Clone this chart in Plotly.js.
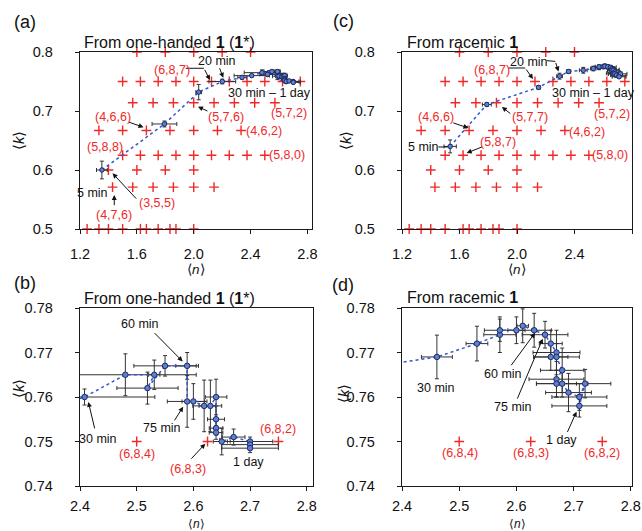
<!DOCTYPE html>
<html><head><meta charset="utf-8">
<script src="https://cdn.plot.ly/plotly-3.0.1.min.js"></script>
<style>html,body{margin:0;padding:0;background:#fff}#chart{width:642px;height:531px}</style>
</head><body><div id="chart"></div>
<script>
// Theoretical (a,b,c) structures: red crosses
const crossN = [1.6,1.8,2.0,2.2,2.4,
  1.5,1.625,1.75,1.875,2.0,2.125,2.25,2.375,2.5,2.625,2.75,
  1.571,1.714,1.857,2.0,2.143,2.286,2.429,2.571,
  1.333,1.5,1.667,1.833,2.0,2.167,2.333,
  1.5,1.625,1.75,1.875,2.0,2.125,2.25,2.375,2.5,
  1.4,1.6,1.8,2.0,
  1.429,1.571,1.714,1.857,2.0,2.143,
  1.25,1.333,1.4,1.5,1.625,1.667,1.75,1.833,1.875,2.0];
const crossK = [0.8,0.8,0.8,0.8,0.8,
  0.75,0.75,0.75,0.75,0.75,0.75,0.75,0.75,0.75,0.75,0.75,
  0.714,0.714,0.714,0.714,0.714,0.714,0.714,0.714,
  0.667,0.667,0.667,0.667,0.667,0.667,0.667,
  0.625,0.625,0.625,0.625,0.625,0.625,0.625,0.625,0.625,
  0.6,0.6,0.6,0.6,
  0.571,0.571,0.571,0.571,0.571,0.571,
  0.5,0.5,0.5,0.5,0.5,0.5,0.5,0.5,0.5,0.5];

// From one-handed 1 (1*): <n>, <k> and their errors
const ohN  = [1.354,1.794,2.035,2.201,2.340,2.408,2.480,2.531,2.519,2.550,2.589,2.589,2.600,2.619,2.630,2.640,2.640,2.640,2.640,2.650,2.671,2.700,2.700,2.700];
const ohK  = [0.600,0.678,0.732,0.750,0.757,0.760,0.765,0.765,0.762,0.767,0.767,0.759,0.759,0.758,0.758,0.760,0.755,0.753,0.752,0.750,0.751,0.750,0.7493,0.7485];
const ohEN = [0.038,0.087,0.020,0.094,0.030,0.124,0.125,0.010,0.054,0.055,0.020,0.035,0.020,0.020,0.020,0.019,0.015,0.012,0.012,0.015,0.020,0.040,0.050,0.050];
const ohEK = [0.015,0.005,0.013,0.004,0.003,0.0018,0.0047,0.0033,0.0036,0.0023,0.003,0.0058,0.004,0.0058,0.0058,0.004,0.003,0.0015,0.0015,0.003,0.0018,0.001,0.001,0.001];

// From racemic 1
const racN  = [1.535,1.790,2.150,2.296,2.359,2.461,2.531,2.571,2.571,2.600,2.611,2.631,2.650,2.660,2.670,2.660,2.670,2.680,2.670,2.670,2.680,2.691,2.710,2.720,2.710];
const racK  = [0.640,0.711,0.740,0.759,0.767,0.769,0.772,0.774,0.775,0.775,0.776,0.775,0.774,0.772,0.770,0.769,0.769,0.766,0.764,0.763,0.763,0.761,0.760,0.763,0.758];
const racEN = [0.043,0.031,0.010,0.020,0.015,0.027,0.019,0.028,0.027,0.015,0.010,0.030,0.040,0.020,0.041,0.030,0.040,0.038,0.048,0.035,0.045,0.040,0.048,0.045,0.048];
const racEK = [0.011,0.003,0.003,0.005,0.003,0.0049,0.0039,0.004,0.0025,0.003,0.0038,0.0038,0.003,0.003,0.005,0.003,0.003,0.005,0.004,0.003,0.003,0.0043,0.003,0.0032,0.0025];

const W = 642, H = 531;
const FONT = 'Liberation Sans, Arial, Helvetica, sans-serif';
const RED = 'rgb(240,40,40)', INK = '#111';

function crossTrace(xa, ya, clip){
  return {x: crossN, y: crossK, xaxis: xa, yaxis: ya, type: 'scatter', mode: 'markers',
    cliponaxis: clip, hoverinfo: 'skip',
    marker: {symbol: 'cross-thin', size: 7, color: RED, line: {color: RED, width: 1.4}}};
}
function dataTrace(xs, ys, exs, eys, xa, ya, msize){
  return {x: xs, y: ys, xaxis: xa, yaxis: ya, type: 'scatter', mode: 'lines+markers',
    line: {color: '#3457cc', width: 1.5, dash: 'dot'},
    marker: {symbol: 'circle', size: msize, color: '#5f7fcf', line: {color: '#1c2a66', width: 1}},
    error_x: {type: 'data', array: exs, visible: true, color: '#333', thickness: 1, width: 2},
    error_y: {type: 'data', array: eys, visible: true, color: '#333', thickness: 1, width: 2}};
}

const traces = [
  crossTrace('x', 'y', false), dataTrace(ohN, ohK, ohEN, ohEK, 'x', 'y', 4.5),
  crossTrace('x2', 'y2', false), dataTrace(racN, racK, racEN, racEK, 'x2', 'y2', 4.5),
  crossTrace('x3', 'y3', true), dataTrace(ohN, ohK, ohEN, ohEK, 'x3', 'y3', 5.5),
  crossTrace('x4', 'y4', true), dataTrace(racN, racK, racEN, racEK, 'x4', 'y4', 5.5)
];

function ax(domainPx, range, dtick, fmt, anchor, standoff){
  return {domain: domainPx, range: range, dtick: dtick, tick0: range[0], tickformat: fmt,
    anchor: anchor, showline: true, mirror: true, linecolor: '#1a1a1a', linewidth: 1.3,
    ticks: 'outside', ticklen: 4, tickcolor: '#1a1a1a', tickwidth: 1, showgrid: false, zeroline: false,
    tickfont: {family: FONT, size: 14.5, color: INK}, ticklabelstandoff: standoff, fixedrange: true};
}
const dxL = [80/W, 312/W], dxR = [402/W, 632/W], dxL2 = [80/W, 313/W];
const dyT = [1-229/H, 1-52/H], dyB = [1-486/H, 1-308/H];

const layout = {
  width: W, height: H, margin: {l: 0, r: 0, t: 0, b: 0}, showlegend: false,
  paper_bgcolor: '#fff', plot_bgcolor: '#fff', font: {family: FONT, color: INK},
  xaxis:  ax(dxL, [1.2, 2.832], 0.4, '.1f', 'y', 7),
  yaxis:  ax(dyT, [0.5, 0.8], 0.1, '.1f', 'x', 19),
  xaxis2: ax(dxR, [1.2, 2.8], 0.4, '.1f', 'y2', 7),
  yaxis2: ax(dyT, [0.5, 0.8], 0.1, '.1f', 'x2', 19),
  xaxis3: ax(dxL2, [2.4, 2.811], 0.1, '.1f', 'y3', 2),
  yaxis3: ax(dyB, [0.74, 0.78], 0.01, '.2f', 'x3', 19),
  xaxis4: ax(dxR, [2.4, 2.802], 0.1, '.1f', 'y4', 2),
  yaxis4: ax(dyB, [0.74, 0.78], 0.01, '.2f', 'x4', 19),
  annotations: [], shapes: []
};

const A = layout.annotations, S = layout.shapes;
function pap(text, x, y, size, extra){
  A.push(Object.assign({text: text, xref: 'paper', yref: 'paper', x: x/W, y: 1-y/H,
    xanchor: 'center', yanchor: 'middle',
    showarrow: false, font: {family: FONT, size: size, color: INK}}, extra || {}));
}
// panel letters and titles
pap('(a)', 25, 22, 18); pap('(c)', 343, 21, 18); pap('(b)', 25, 283, 18); pap('(d)', 343, 285, 18);
pap('From one-handed <b>1</b> (<b>1</b>*)', 82, 42, 16, {xanchor: 'left'});
pap('From racemic <b>1</b>', 405, 42, 16, {xanchor: 'left'});
pap('From one-handed <b>1</b> (<b>1</b>*)', 82, 298, 16, {xanchor: 'left'});
pap('From racemic <b>1</b>', 405, 297, 16, {xanchor: 'left'});
// axis titles
pap('⟨<i>n</i>⟩', 196, 269, 13.5); pap('⟨<i>n</i>⟩', 517, 269, 13.5);
pap('⟨<i>n</i>⟩', 196, 524, 12); pap('⟨<i>n</i>⟩', 517, 524, 12);
pap('⟨<i>k</i>⟩', 18, 140, 15, {textangle: -90}); pap('⟨<i>k</i>⟩', 345, 140, 15, {textangle: -90});
pap('⟨<i>k</i>⟩', 18, 388, 15, {textangle: -90}); pap('⟨<i>k</i>⟩', 343, 393, 15, {textangle: -90});

function lab(xa, ya, list){
  list.forEach(function(t){
    A.push({text: t[0], x: t[1], y: t[2], xref: xa, yref: ya, showarrow: false,
      xanchor: 'center', yanchor: 'middle',
      font: {family: FONT, size: 12.5, color: t[3] === 'r' ? RED : INK}});
  });
}
function arr(xa, ya, list){
  list.forEach(function(a){
    A.push({text: '', x: a[0], y: a[1], ax: a[2], ay: a[3], xref: xa, yref: ya, axref: xa, ayref: ya,
      showarrow: true, arrowhead: 2, arrowsize: 1, arrowwidth: 1, arrowcolor: INK});
  });
}
function seg(xa, ya, list){
  list.forEach(function(s){
    S.push({type: 'line', xref: xa, yref: ya, x0: s[0], y0: s[1], x1: s[2], y1: s[3],
      line: {color: INK, width: 1}});
  });
}

// panel (a)
lab('x', 'y', [['(6,8,7)',1.85,0.7695,'r'],['20 min',2.161,0.7847,'k'],['30 min – 1 day',2.535,0.731,'k'],
  ['(5,7,6)',2.225,0.6893,'r'],['(5,7,2)',2.669,0.696,'r'],['(4,6,6)',1.429,0.690,'r'],['(4,6,2)',2.493,0.6667,'r'],
  ['(5,8,8)',1.375,0.6385,'r'],['(5,8,0)',2.657,0.6254,'r'],['5 min',1.289,0.5605,'k'],['(3,5,5)',1.740,0.5436,'r'],
  ['(4,7,6)',1.441,0.5237,'r']]);
arr('x', 'y', [[2.114,0.7525,2.072,0.7724],[2.208,0.7564,2.178,0.775],[2.030,0.7073,2.107,0.6988],
  [1.647,0.6724,1.535,0.6819],[1.429,0.5944,1.605,0.549],[1.441,0.5576,1.441,0.5378]]);
seg('x', 'y', [[1.944,0.7724,2.072,0.7724]]);

// panel (c)
lab('x2', 'y2', [['(6,8,7)',1.825,0.770,'r'],['20 min',2.080,0.7824,'k'],['30 min – 1 day',2.529,0.7304,'k'],
  ['(5,7,2)',2.663,0.6949,'r'],['(4,6,6)',1.437,0.690,'r'],['(5,7,7)',2.092,0.690,'r'],['(4,6,2)',2.487,0.6637,'r'],
  ['5 min',1.348,0.639,'k'],['(5,8,7)',1.871,0.6468,'r'],['(5,8,0)',2.650,0.626,'r']]);
arr('x2', 'y2', [[2.111,0.7542,2.057,0.7729],[2.289,0.7671,2.266,0.7841],[1.662,0.6712,1.546,0.6807],
  [1.895,0.7068,1.964,0.6937],[1.650,0.6288,1.766,0.640]]);
seg('x2', 'y2', [[1.941,0.7729,2.057,0.7729],[2.208,0.7853,2.266,0.7841],[1.453,0.639,1.518,0.639]]);

// panel (b)
lab('x3', 'y3', [['60 min',2.506,0.7763,'k'],['30 min',2.432,0.7505,'k'],['75 min',2.544,0.7531,'k'],
  ['(6,8,2)',2.750,0.7529,'r'],['(6,8,4)',2.500,0.7473,'r'],['(6,8,3)',2.591,0.7439,'r'],['1 day',2.697,0.7454,'k']]);
arr('x3', 'y3', [[2.581,0.768,2.529,0.7747],[2.4147,0.7589,2.4265,0.7526],[2.582,0.7578,2.565,0.7544],
  [2.621,0.7495,2.594,0.7458]]);

// panel (d)
lab('x4', 'y4', [['30 min',2.459,0.762,'k'],['60 min',2.576,0.7651,'k'],['75 min',2.594,0.7578,'k'],
  ['1 day',2.679,0.7503,'k'],['(6,8,4)',2.501,0.7475,'r'],['(6,8,3)',2.625,0.7475,'r'],['(6,8,2)',2.750,0.7475,'r']]);
arr('x4', 'y4', [[2.6325,0.7744,2.589,0.7668],[2.646,0.7731,2.6005,0.7593],[2.705,0.7567,2.688,0.7518]]);

Plotly.newPlot('chart', traces, layout, {displayModeBar: false, staticPlot: true});
</script></body></html>
